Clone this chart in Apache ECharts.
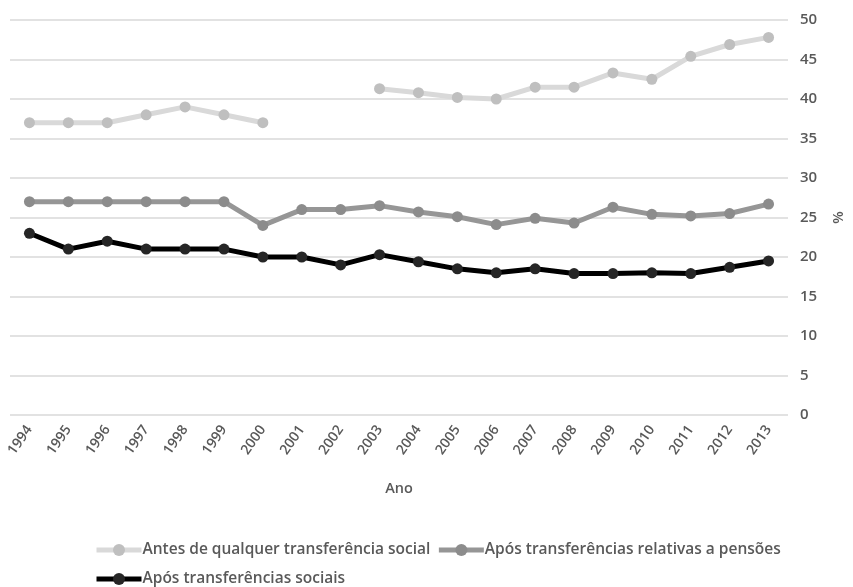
<!DOCTYPE html>
<html>
<head>
<meta charset="utf-8">
<script src="https://cdn.jsdelivr.net/npm/echarts@6/dist/echarts.min.js"></script>
<style>
    html, body { margin: 0; padding: 0; background: #fff; }
    #chart { width: 853px; height: 587px; }
</style>
</head>
<body>
<div id="chart"></div>
<script>
    const years = ['1994','1995','1996','1997','1998','1999','2000','2001','2002','2003',
                   '2004','2005','2006','2007','2008','2009','2010','2011','2012','2013']
    // null = sem dados (2001, 2002)
    const antes = [37, 37, 37, 38, 39, 38, 37, null, null, 41.3,
                   40.8, 40.2, 40.0, 41.5, 41.5, 43.3, 42.5, 45.4, 46.9, 47.8]
    const pensoes = [27, 27, 27, 27, 27, 27, 24, 26, 26, 26.5,
                     25.7, 25.1, 24.1, 24.9, 24.3, 26.3, 25.4, 25.2, 25.5, 26.7]
    const sociais = [23, 21, 22, 21, 21, 21, 20, 20, 19, 20.3,
                     19.4, 18.5, 18.0, 18.5, 17.9, 17.9, 18.0, 17.9, 18.7, 19.5]
    const names = ['Antes de qualquer transferência social',
                   'Após transferências relativas a pensões',
                   'Após transferências sociais']

    const font = 'Open Sans'
    const txt = '#595959'

    const chartInstance = echarts.init(document.getElementById('chart'))

    function lineSeries(name, data, lineColor, dotColor){
        return {
            name: name,
            type: 'line',
            data: data,
            connectNulls: false,
            symbol: 'circle',
            symbolSize: 11,
            lineStyle: { color: lineColor, width: 5 },
            itemStyle: { color: dotColor },
            emphasis: { disabled: true }
        }
    }

    const legendBase = {
        left: 89,
        itemWidth: 45,
        itemHeight: 15,
        itemGap: 6,
        lineStyle: { width: 5 },
        textStyle: { color: txt, fontFamily: font, fontSize: 15.5, fontWeight: 600, padding: [0, 0, 0, -4] }
    }

    chartInstance.setOption({
        animation: false,
        grid: { left: 10, right: 60, top: 20, bottom: 172 },
        legend: [
            Object.assign({ top: 537, data: [names[0], names[1]] }, legendBase),
            Object.assign({ top: 566, data: [names[2]] }, legendBase)
        ],
        xAxis: {
            type: 'category',
            data: years,
            boundaryGap: true,
            name: 'Ano',
            nameLocation: 'middle',
            nameGap: 66,
            nameTextStyle: { color: txt, fontFamily: font, fontSize: 14.5, fontWeight: 600 },
            axisLine: { show: false },
            axisTick: { show: false },
            axisLabel: { color: txt, fontFamily: font, fontSize: 14, fontWeight: 600, rotate: 55, margin: 12 }
        },
        yAxis: {
            type: 'value',
            position: 'right',
            min: 0,
            max: 50,
            interval: 5,
            name: '%',
            nameLocation: 'middle',
            nameRotate: -90,
            nameGap: 42,
            nameTextStyle: { color: txt, fontFamily: font, fontSize: 14.5, fontWeight: 600 },
            axisLine: { show: false },
            axisTick: { show: false },
            splitLine: { lineStyle: { color: '#d9d9d9', width: 1.5 } },
            axisLabel: { color: txt, fontFamily: font, fontSize: 15, fontWeight: 600, margin: 12 }
        },
        series: [
            lineSeries(names[0], antes, '#d9d9d9', '#bfbfbf'),
            lineSeries(names[1], pensoes, '#969696', '#8c8c8c'),
            lineSeries(names[2], sociais, '#000000', '#262626')
        ]
    })
</script>
</body>
</html>
